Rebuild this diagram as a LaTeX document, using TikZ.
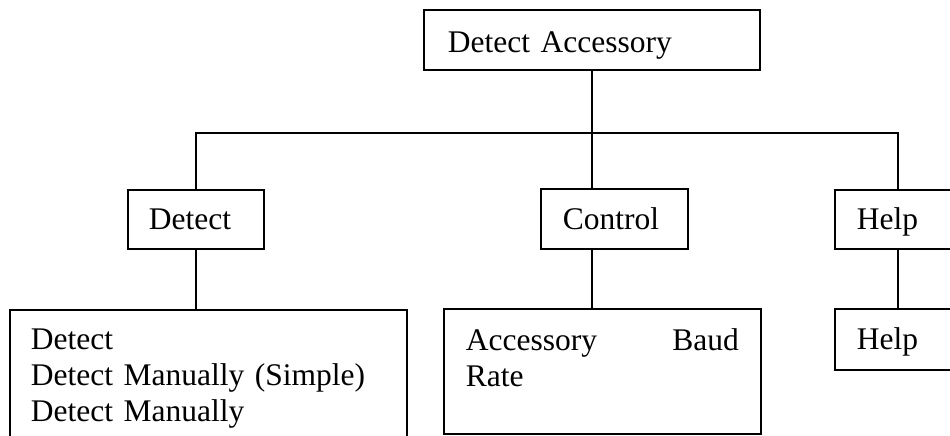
\documentclass[tikz,border=0pt]{standalone}
\usepackage{fontspec}
\setmainfont{Liberation Serif}
\usetikzlibrary{positioning}

\tikzset{
  menubox/.style={draw=black, line width=1.7pt, anchor=north west, align=left,
    inner ysep=0pt, font=\fontsize{31.5}{36}\selectfont},
  link/.style={black, line width=1.7pt}
}

\begin{document}
\begin{tikzpicture}[x=1pt,y=-1pt]
\clip (0,0) rectangle (950,436);
\node [menubox, inner xsep=24pt, text width=288pt, text height=43pt, text depth=17pt] (top) at (423,9) {Detect Accessory};
\node [menubox, inner xsep=21pt, text width=94pt, text height=40pt, text depth=19pt] (detect) at (127,189) {Detect};
\node [menubox, inner xsep=22pt, text width=103pt, text height=41pt, text depth=19pt] (control) at (540,188) {Control};
\node [menubox, inner xsep=22pt, text width=82pt, text height=40pt, text depth=19pt] (help) at (834,189) {Help};
\node [menubox, inner xsep=21pt, text width=355pt, text height=40pt, text depth=140pt] (detectlist) at (9,309) {Detect\\Detect Manually (Simple)\\Detect Manually};
\node [menubox, inner xsep=22pt, text width=273pt, text height=42pt, text depth=83pt] (controllist) at (443,308) {Accessory\hfill Baud\\Rate};
\node [menubox, inner xsep=22pt, text width=82pt, text height=41pt, text depth=20pt] (helplist) at (834,308) {Help};
\coordinate (split) at (592,133);
\draw [link] (split |- top.south) -- (split);
\draw [link] (split) -| (detect.north);
\draw [link] (split) -| (help.north);
\draw [link] (split) -- (split |- control.north);
\draw [link] (detect.south) -- (detectlist.north -| detect.south);
\draw [link] (split |- control.south) -- (split |- controllist.north);
\draw [link] (help.south) -- (helplist.north);
\end{tikzpicture}
\end{document}
